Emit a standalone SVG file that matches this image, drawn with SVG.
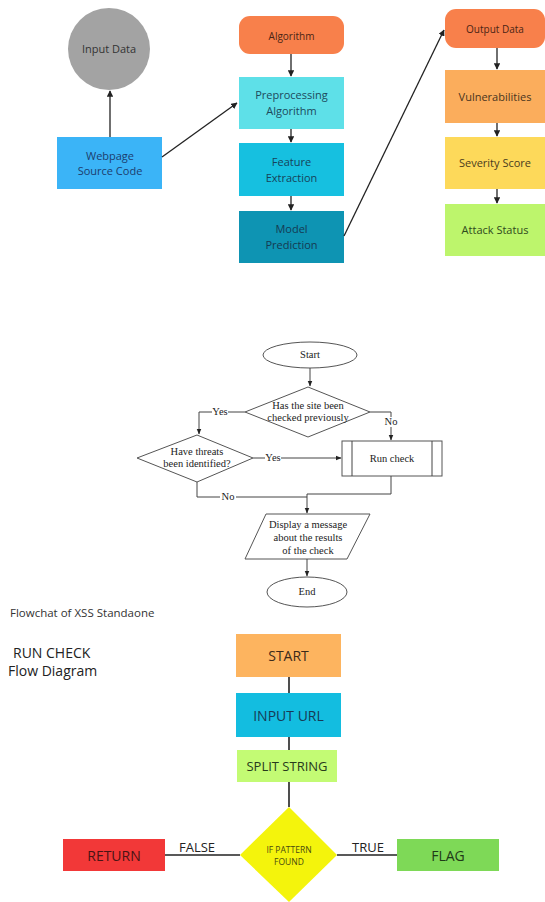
<svg xmlns="http://www.w3.org/2000/svg" width="545" height="902" viewBox="0 0 545 902">
<defs>
<marker id="ah" viewBox="0 0 10 10" refX="9" refY="5" markerWidth="5" markerHeight="5" orient="auto-start-reverse"><path d="M0,0 L10,5 L0,10 z" fill="#222"/></marker>
<marker id="ahs" viewBox="0 0 10 10" refX="9" refY="5" markerWidth="6" markerHeight="6" orient="auto-start-reverse"><path d="M0,1 L10,5 L0,9 z" fill="#222"/></marker>
</defs>
<style>
.t{font-family:"Open Sans","Liberation Sans",sans-serif;text-anchor:middle;}
.s{font-family:"Liberation Serif","Times New Roman",serif;text-anchor:middle;font-size:10.5px;fill:#222;}
.c{fill:none;stroke:#222;stroke-width:1.3;}
.fc{fill:none;stroke:#444;stroke-width:1;}
.sh{fill:#fff;stroke:#555;stroke-width:1;}
.b{stroke:#222;stroke-width:1.6;fill:none;}
.cap{font-family:"Open Sans","Liberation Sans",sans-serif;}
</style>
<rect width="545" height="902" fill="#fff"/>

<!-- top section -->
<g id="input-data"><circle cx="109" cy="49" r="41" fill="#a3a3a3"/><text class="t" x="109" y="53" font-size="11" fill="#333">Input Data</text></g>
<g id="webpage"><rect x="57" y="137" width="105" height="52" fill="#3bb4f7"/><text class="t" x="110" y="160" font-size="11" fill="#1d3d6e">Webpage</text><text class="t" x="110" y="175" font-size="11" fill="#1d3d6e">Source Code</text></g>
<g id="algorithm"><rect x="239" y="16" width="105" height="38" rx="11" fill="#f8804b"/><text class="t" x="291.5" y="40" font-size="10" fill="#4a2415">Algorithm</text></g>
<g id="preprocessing"><rect x="239" y="77" width="105" height="52" fill="#5ee0e8"/><text class="t" x="291.5" y="99" font-size="11" fill="#1d4a5c">Preprocessing</text><text class="t" x="291.5" y="115" font-size="11" fill="#1d4a5c">Algorithm</text></g>
<g id="feature"><rect x="239" y="143" width="105" height="53" fill="#16c0e0"/><text class="t" x="291.5" y="166" font-size="11" fill="#16435a">Feature</text><text class="t" x="291.5" y="182" font-size="11" fill="#16435a">Extraction</text></g>
<g id="model"><rect x="239" y="211" width="105" height="52" fill="#0e94b3"/><text class="t" x="291.5" y="233" font-size="11" fill="#153a52">Model</text><text class="t" x="291.5" y="249" font-size="11" fill="#153a52">Prediction</text></g>
<g id="output-data"><rect x="445" y="9" width="100" height="39" rx="11" fill="#f8804b"/><text class="t" x="495" y="33" font-size="10" fill="#4a2415">Output Data</text></g>
<g id="vulnerabilities"><rect x="445" y="70" width="100" height="53" fill="#fbad5c"/><text class="t" x="495" y="101" font-size="11" fill="#4a3520">Vulnerabilities</text></g>
<g id="severity"><rect x="445" y="137" width="100" height="52" fill="#fdd95a"/><text class="t" x="495" y="167" font-size="11" fill="#4a3c1e">Severity Score</text></g>
<g id="attack"><rect x="445" y="204" width="100" height="52" fill="#bdf56c"/><text class="t" x="495" y="234" font-size="11" fill="#2f4a1d">Attack Status</text></g>

<g id="connectors-top">
<line class="c" x1="110" y1="137" x2="110" y2="91" marker-end="url(#ah)"/>
<line class="c" x1="162" y1="157" x2="237" y2="103" marker-end="url(#ah)"/>
<line class="c" x1="291" y1="54" x2="291" y2="76" marker-end="url(#ah)"/>
<line class="c" x1="291" y1="129" x2="291" y2="142" marker-end="url(#ah)"/>
<line class="c" x1="291" y1="196" x2="291" y2="210" marker-end="url(#ah)"/>
<line class="c" x1="344" y1="236" x2="444" y2="30" marker-end="url(#ah)"/>
<line class="c" x1="497" y1="48" x2="497" y2="69" marker-end="url(#ah)"/>
<line class="c" x1="497" y1="123" x2="497" y2="136" marker-end="url(#ah)"/>
<line class="c" x1="497" y1="189" x2="497" y2="203" marker-end="url(#ah)"/>
</g>

<!-- middle flowchart -->
<g id="fc-start"><ellipse class="sh" cx="310" cy="355" rx="47" ry="13"/><text class="s" x="310" y="358">Start</text></g>
<g id="fc-checked"><polygon class="sh" points="245,412 308,387 370,412 308,437"/><text class="s" x="308" y="409">Has the site been</text><text class="s" x="308" y="421">checked previously</text></g>
<g id="fc-threats"><polygon class="sh" points="137,458 197,435 253,458 197,482"/><text class="s" x="197" y="455">Have threats</text><text class="s" x="197" y="467">been identified?</text></g>
<g id="fc-run"><rect class="sh" x="342" y="441" width="100" height="35"/><line class="fc" x1="352" y1="441" x2="352" y2="476"/><line class="fc" x1="432" y1="441" x2="432" y2="476"/><text class="s" x="392" y="462">Run check</text></g>
<g id="fc-display"><polygon class="sh" points="266,514 370,514 347,559 245,559"/><text class="s" x="308" y="528">Display a message</text><text class="s" x="308" y="541">about the results</text><text class="s" x="308" y="554">of the check</text></g>
<g id="fc-end"><ellipse class="sh" cx="307" cy="592" rx="40" ry="15"/><text class="s" x="307" y="595">End</text></g>

<g id="connectors-mid">
<line class="fc" x1="310" y1="368" x2="310" y2="386" marker-end="url(#ahs)"/>
<polyline class="fc" points="245,412 228,412"/>
<polyline class="fc" points="212,412 199,412 199,434" marker-end="url(#ahs)"/>
<text class="s" x="220" y="415">Yes</text>
<polyline class="fc" points="370,412 391,412 391,417"/>
<polyline class="fc" points="391,427 391,440" marker-end="url(#ahs)"/>
<text class="s" x="391" y="425">No</text>
<polyline class="fc" points="253,458 265,458"/>
<polyline class="fc" points="281,458 341,458" marker-end="url(#ahs)"/>
<text class="s" x="273" y="461">Yes</text>
<polyline class="fc" points="197,482 197,497 220,497"/>
<polyline class="fc" points="236,497 307,497"/>
<text class="s" x="228" y="500">No</text>
<polyline class="fc" points="391,476 391,494 307,494 307,513" marker-end="url(#ahs)"/>
<line class="fc" x1="307" y1="559" x2="307" y2="576" marker-end="url(#ahs)"/>
</g>

<!-- bottom section -->
<g id="captions">
<text class="cap" x="10" y="617" font-size="11.5" fill="#333">Flowchat of XSS Standaone</text>
<text class="cap" x="13" y="658" font-size="14" fill="#222">RUN CHECK</text>
<text class="cap" x="8" y="676" font-size="14" fill="#222">Flow Diagram</text>
</g>
<g id="b-start"><rect x="236" y="634" width="105" height="43" fill="#fdb45f"/><text class="t" x="288.5" y="661" font-size="14" fill="#3a2a1a">START</text></g>
<g id="b-input"><rect x="236" y="693" width="105" height="44" fill="#13bde0"/><text class="t" x="288.5" y="721" font-size="14" fill="#173a55">INPUT URL</text></g>
<g id="b-split"><rect x="237" y="750" width="100" height="32" fill="#c3fb74"/><text class="t" x="287" y="771" font-size="13" fill="#283a1c">SPLIT STRING</text></g>
<g id="b-pattern"><polygon points="289,807 337,855 289,902 240,855" fill="#f4f40c"/><text class="t" x="289" y="853" font-size="8.5" fill="#4a4a10">IF PATTERN</text><text class="t" x="289" y="865" font-size="8.5" fill="#4a4a10">FOUND</text></g>
<g id="b-return"><rect x="63" y="839" width="102" height="32" fill="#f23838"/><text class="t" x="114" y="861" font-size="14" fill="#4a1414">RETURN</text></g>
<g id="b-flag"><rect x="397" y="839" width="102" height="32" fill="#7ed957"/><text class="t" x="448" y="861" font-size="14" fill="#1f3a18">FLAG</text></g>
<g id="connectors-bottom">
<line class="b" x1="289" y1="677" x2="289" y2="693"/>
<line class="b" x1="289" y1="737" x2="289" y2="750"/>
<line class="b" x1="289" y1="782" x2="289" y2="807"/>
<line class="b" x1="165" y1="855" x2="240" y2="855"/>
<line class="b" x1="337" y1="855" x2="397" y2="855"/>
<text class="t" x="197" y="852" font-size="13" fill="#222">FALSE</text>
<text class="t" x="368" y="852" font-size="13" fill="#222">TRUE</text>
</g>
</svg>
